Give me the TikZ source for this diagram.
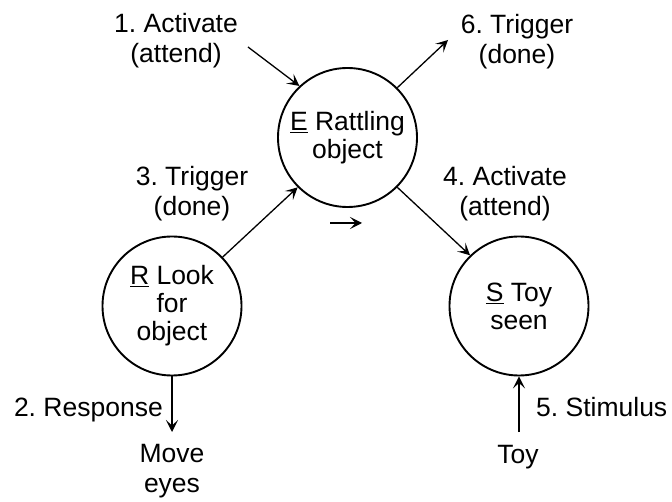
\documentclass[tikz,border=0pt]{standalone}
\usepackage{fontspec}
\setmainfont{Liberation Sans}
\usetikzlibrary{arrows.meta}
\frenchspacing
\begin{document}
\begin{tikzpicture}[x=1pt,y=-1pt,
  state/.style={circle,draw,line width=1.9pt,minimum size=139pt,inner sep=0pt,
    align=center,font=\fontsize{26.5}{28}\selectfont},
  lbl/.style={align=center,inner sep=0pt,font=\fontsize{26.5}{30}\selectfont},
  arr/.style={line width=1.3pt,-{Stealth[length=12pt,width=12pt,inset=5.5pt]}}]
\useasboundingbox (0,0) rectangle (672,502);

% states
\node[state] (E) at (347.5,137.5) {\underline{E} Rattling\\object};
\node[state] (R) at (172,306) {\underline{R} Look\\for\\object};
\node[state] (S) at (519,306) {\underline{S} Toy\\seen};

% labels
\node[lbl] (act1) at (176,41) {1. Activate\\(attend)};
\node[lbl] (trig6) at (517,41.5) {6. Trigger\\(done)};
\node[lbl] (trig3) at (192,194) {3. Trigger\\(done)};
\node[lbl] (act4) at (505,194) {4. Activate\\(attend)};
\node[lbl,anchor=base east] (resp) at (163,417) {2. Response};
\node[lbl,anchor=base west] (stim) at (536,417) {5. Stimulus};
\node[lbl] (eyes) at (172,471) {Move\\eyes};
\node[lbl,anchor=base] (toy) at (518,463) {Toy};

% free ends of connectors
\coordinate (in1) at (248,47);
\coordinate (out6) at (448,40);
\coordinate (out2) at (172,432);
\coordinate (in5) at (519,432);
\coordinate (seqA) at (330,223);
\coordinate (seqB) at (362,223);

% connectors
\draw[arr] (in1) -- (E.133);
\draw[arr] (E.45) -- (out6);
\draw[arr] (R.44) -- (E.225);
\draw[arr] (E.-45) -- (S.134);
\draw[arr] (R.south) -- (out2);
\draw[arr] (in5) -- (S.south);
\draw[arr] (seqA) -- (seqB);
\end{tikzpicture}
\end{document}
